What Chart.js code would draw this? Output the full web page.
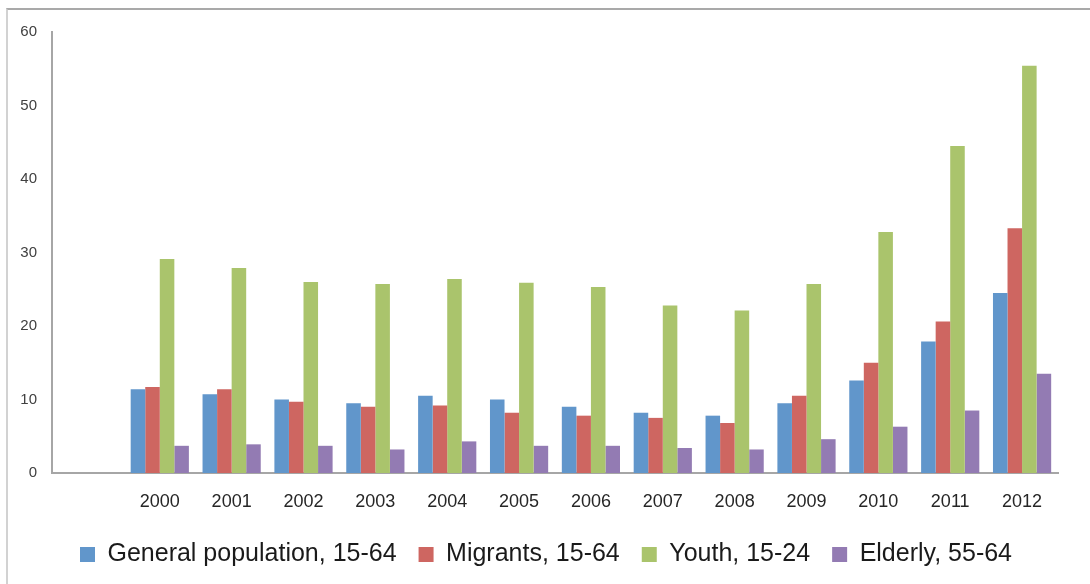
<!DOCTYPE html>
<html>
<head>
<meta charset="utf-8">
<script src="https://cdn.jsdelivr.net/npm/chart.js@4/dist/chart.umd.min.js"></script>
<style>
  html, body { margin: 0; padding: 0; background: #fff; }
  #cornice { position: absolute; left: 6px; top: 8px; width: 1084px; height: 576px;
             border-top: 2px solid #a9a9a9; border-left: 2px solid #d2d2d2; }
  #contenitore { position: absolute; left: 0; top: 0; width: 1090px; height: 584px; }
</style>
</head>
<body>
<div id="cornice"></div>
<div id="contenitore"><canvas id="grafico"></canvas></div>
<script>
// anni (il primo posto vuoto come nell'originale)
const anni = ['', '2000', '2001', '2002', '2003', '2004', '2005', '2006', '2007', '2008', '2009', '2010', '2011', '2012'];
const popolazione = [null, 11.4, 10.7, 10.0, 9.5, 10.5, 10.0, 9.0, 8.2, 7.8, 9.5, 12.6, 17.9, 24.5];
const migranti = [null, 11.7, 11.4, 9.7, 9.0, 9.2, 8.2, 7.8, 7.5, 6.8, 10.5, 15.0, 20.6, 33.3];
const giovani = [null, 29.1, 27.9, 26.0, 25.7, 26.4, 25.9, 25.3, 22.8, 22.1, 25.7, 32.8, 44.5, 55.4];
const anziani = [null, 3.7, 3.9, 3.7, 3.2, 4.3, 3.7, 3.7, 3.4, 3.2, 4.6, 6.3, 8.5, 13.5];
const tacche = [0, 10, 20, 30, 40, 50, 60];

var data = {
    labels: anni,
    datasets: [
        { label: 'General population, 15-64', backgroundColor: '#6196cb', data: popolazione },
        { label: 'Migrants, 15-64', backgroundColor: '#ce6661', data: migranti },
        { label: 'Youth, 15-24', backgroundColor: '#aac46c', data: giovani },
        { label: 'Elderly, 55-64', backgroundColor: '#937bb3', data: anziani }
    ]
};

// sposta la legenda per centrarla sulla pagina (il padding destro la spinge a sinistra)
var spostaLegenda = {
    id: 'spostaLegenda',
    afterLayout: function (chart) {
        chart.legend.left += 17;
        chart.legend.right += 17;
    }
};

var ctx = document.getElementById('grafico');
var myChart = new Chart(ctx, {
    type: 'bar',
    data: data,
    plugins: [spostaLegenda],
    options: {
        responsive: true,
        maintainAspectRatio: false,
        animation: false,
        devicePixelRatio: 1,
        categoryPercentage: 0.81,
        barPercentage: 1.0,
        layout: { padding: { top: 32, right: 32, left: 0, bottom: 7 } },
        plugins: {
            tooltip: { enabled: false },
            legend: {
                position: 'bottom',
                labels: {
                    boxWidth: 15, boxHeight: 15, padding: 22,
                    color: '#1a1a1a',
                    font: { family: 'Liberation Sans', size: 25 }
                }
            }
        },
        scales: {
            x: {
                grid: { display: false, drawTicks: false },
                border: { color: '#a6a6a6', width: 2 },
                ticks: { color: '#262626', padding: 18, font: { family: 'Liberation Sans', size: 18 } },
                afterFit: function (scala) { scala.height = 47; }
            },
            y: {
                min: 0, max: 60,
                afterBuildTicks: function (scala) { scala.ticks = tacche.map(v => ({ value: v })); },
                grid: { display: false, drawTicks: false },
                border: { color: '#a6a6a6', width: 2 },
                ticks: { color: '#404040', padding: 15, font: { family: 'Liberation Sans', size: 15 } },
                afterFit: function (scala) { scala.width = 52; }
            }
        }
    }
});
</script>
</body>
</html>
